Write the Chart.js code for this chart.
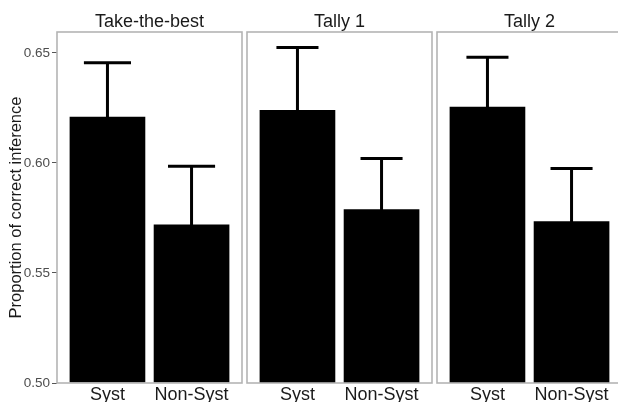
<!DOCTYPE html>
<html>
<head>
<meta charset="utf-8">
<script src="https://cdn.jsdelivr.net/npm/chart.js@4/dist/chart.umd.min.js"></script>
<style>
  html, body { margin: 0; padding: 0; background: #ffffff; width: 618px; height: 402px; overflow: hidden; position: relative; }
  canvas { position: absolute; top: 0; }
</style>
</head>
<body>
<canvas id="p1" width="244" height="402" style="left:0px;width:244px;height:402px"></canvas>
<canvas id="p2" width="189" height="402" style="left:245px;width:189px;height:402px"></canvas>
<canvas id="p3" width="189" height="402" style="left:435px;width:189px;height:402px"></canvas>
<script>
// Conditions shown on each panel's x axis
const categories = ['Syst', 'Non-Syst'];
// Facet (strategy) names
const panelTitles = ['Take-the-best', 'Tally 1', 'Tally 2'];
// Mean proportion of correct inferences and standard errors per strategy
const takeTheBestMean = [0.621, 0.572];
const takeTheBestSE = [0.0245, 0.0265];
const tally1Mean = [0.624, 0.579];
const tally1SE = [0.0285, 0.023];
const tally2Mean = [0.6255, 0.5735];
const tally2SE = [0.0225, 0.024];
// Value axis ticks
const yTicks = [0.50, 0.55, 0.60, 0.65];
const yLabel = 'Proportion of correct inference';

const FONT = '"Liberation Sans", Arial, Helvetica, sans-serif';
const Y_MIN = 0.5, Y_MAX = 0.6595;

// Grey frame around each facet panel
const panelBorder = {
  id: 'panelBorder',
  afterDatasetsDraw(chart) {
    const a = chart.chartArea, ctx = chart.ctx;
    ctx.save();
    ctx.strokeStyle = '#b4b4b4';
    ctx.lineWidth = 1.6;
    ctx.strokeRect(a.left, a.top, a.right - a.left, a.bottom - a.top);
    ctx.restore();
  }
};

// Mean ± SE error bars with caps
const errorBars = {
  id: 'errorBars',
  afterDatasetsDraw(chart, args, opts) {
    const xs = chart.scales.x, ys = chart.scales.y, ctx = chart.ctx;
    const means = opts.means, se = opts.se;
    const half = Math.abs(xs.getPixelForValue(1 + opts.capWidth / 2) - xs.getPixelForValue(1));
    ctx.save();
    ctx.strokeStyle = '#000000';
    ctx.lineWidth = 3;
    ctx.lineCap = 'butt';
    means.forEach((m, i) => {
      const x = xs.getPixelForValue(i + 1);
      const yHi = ys.getPixelForValue(m + se[i]);
      const yLo = ys.getPixelForValue(m - se[i]);
      ctx.beginPath();
      ctx.moveTo(x, yHi); ctx.lineTo(x, yLo);
      ctx.moveTo(x - half, yHi); ctx.lineTo(x + half, yHi);
      ctx.moveTo(x - half, yLo); ctx.lineTo(x + half, yLo);
      ctx.stroke();
    });
    ctx.restore();
  }
};

function makePanel(id, title, means, se, showY, padLeft, capWidth) {
  new Chart(document.getElementById(id), {
    type: 'bar',
    data: {
      datasets: [{
        data: means.map((v, i) => ({ x: i + 1, y: v })),
        backgroundColor: '#000000',
        borderWidth: 0,
        base: Y_MIN,
        barPercentage: 0.9,
        categoryPercentage: 1.0
      }]
    },
    options: {
      responsive: false,
      devicePixelRatio: 1,
      animation: false,
      layout: { padding: { left: padLeft, right: 2, top: 0, bottom: 0 } },
      plugins: {
        legend: { display: false },
        tooltip: { enabled: false },
        title: {
          display: true,
          fullSize: false,
          text: title,
          color: '#1a1a1a',
          font: { family: FONT, size: 18, weight: 'normal', lineHeight: 1 },
          padding: { top: 12.6, bottom: 1.4 }
        },
        errorBars: { means: means, se: se, capWidth: capWidth }
      },
      scales: {
        x: {
          type: 'linear',
          offset: false,
          min: 0.4,
          max: 2.6,
          grid: { display: false, drawTicks: false, offset: false },
          border: { display: false },
          afterBuildTicks: s => { s.ticks = categories.map((c, i) => ({ value: i + 1 })); },
          afterFit: s => { s.height = 19; },
          ticks: {
            padding: 1,
            color: '#1a1a1a',
            font: { family: FONT, size: 18 },
            maxRotation: 0,
            autoSkip: false,
            callback: v => categories[v - 1]
          }
        },
        y: {
          display: showY,
          min: Y_MIN,
          max: Y_MAX,
          grid: { display: true, drawOnChartArea: false, drawTicks: true, tickLength: 5, color: '#555555', lineWidth: 1 },
          border: { display: false },
          afterBuildTicks: s => { s.ticks = yTicks.map(v => ({ value: v })); },
          afterFit: s => { s.width = showY ? 57 : 0; },
          ticks: {
            padding: 2,
            color: '#4d4d4d',
            font: { family: FONT, size: 13.5 },
            callback: v => Number(v).toFixed(2)
          },
          title: {
            display: true,
            text: yLabel,
            color: '#1a1a1a',
            font: { family: FONT, size: 16.5 },
            padding: { top: 6.7, bottom: 0 }
          }
        }
      }
    },
    plugins: [panelBorder, errorBars]
  });
}

makePanel('p1', panelTitles[0], takeTheBestMean, takeTheBestSE, true, 0, 0.56);
makePanel('p2', panelTitles[1], tally1Mean, tally1SE, false, 2, 0.5);
makePanel('p3', panelTitles[2], tally2Mean, tally2SE, false, 2, 0.5);
</script>
</body>
</html>
